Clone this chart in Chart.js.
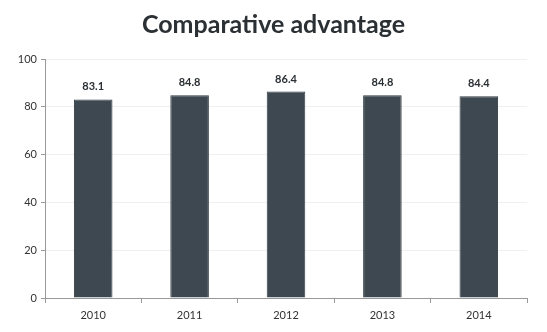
<!DOCTYPE html>
<html><head><meta charset="utf-8">
<script src="https://cdn.jsdelivr.net/npm/chart.js@4"></script>
<style>html,body{margin:0;padding:0;background:#fff}#w{width:547px;height:332px}</style>
</head><body><div id="w"><canvas id="c"></canvas></div>
<script>
const years = ["2010","2011","2012","2013","2014"];
const values = [83.1, 84.8, 86.4, 84.8, 84.4];
const yTicks = [0,20,40,60,80,100];

const labelPlugin = {
  id:'labels',
  afterDatasetsDraw(chart){
    const ctx = chart.ctx;
    const meta = chart.getDatasetMeta(0);
    ctx.save();
    ctx.font = 'bold 11px Lato, "Open Sans", sans-serif';
    ctx.fillStyle = '#2a2f33';
    ctx.textAlign = 'center';
    ctx.textBaseline = 'bottom';
    meta.data.forEach((bar,i)=>{
      ctx.fillText(values[i].toFixed(1), bar.x, bar.y - 7);
    });
    ctx.restore();
  }
};

new Chart(document.getElementById('c'), {
  type:'bar',
  data:{labels:years, datasets:[{data:values, backgroundColor:'#3d4850', borderColor:'#333c43', borderWidth:1, barPercentage:0.8, categoryPercentage:0.5}]},
  options:{
    responsive:true, maintainAspectRatio:false, animation:false,
    layout:{padding:{left:0,right:0,top:0,bottom:0}},
    plugins:{
      legend:{display:false}, tooltip:{enabled:false},
      title:{display:true, text:'Comparative advantage', color:'#2b3035',
        font:{family:'Lato, "Open Sans", sans-serif', size:25, weight:'bold'}, padding:{top:10,bottom:19}}
    },
    scales:{
      x:{
        grid:{display:true, drawOnChartArea:false, drawTicks:true, tickLength:5, color:'#999', offset:true},
        border:{color:'#999'},
        ticks:{color:'#333', font:{family:'Lato, "Open Sans", sans-serif', size:11}, padding:6},
        afterFit(s){ s.height = 34; }
      },
      y:{
        min:0, max:100,
        afterBuildTicks(s){ s.ticks = yTicks.map(v=>({value:v})); },
        grid:{color:'#f0f0f0', tickLength:4, tickColor:'#999'},
        border:{color:'#999'},
        ticks:{color:'#333', font:{family:'Lato, "Open Sans", sans-serif', size:11}, padding:4},
        afterFit(s){ s.width = 45; }
      },
      yr:{
        position:'right', display:true, min:0, max:100,
        grid:{display:false}, border:{display:false}, ticks:{display:false},
        afterFit(s){ s.width = 20; }
      }
    }
  },
  plugins:[labelPlugin]
});
</script></body></html>
